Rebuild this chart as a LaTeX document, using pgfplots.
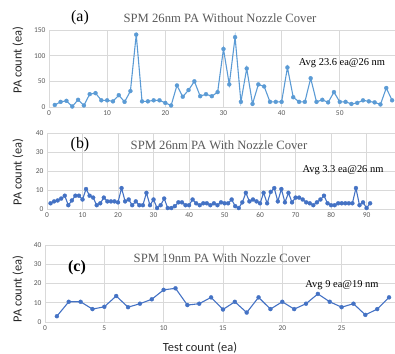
\documentclass[border=0pt]{standalone}
\usepackage{pgfplots}
\pgfplotsset{compat=1.18}
\usepackage{fontspec}
\setmainfont{Liberation Serif}
\newfontfamily\calib{Carlito}
\definecolor{lblue}{HTML}{5B9BD5}
\definecolor{dblue}{HTML}{4472C4}
\definecolor{gridc}{HTML}{D9D9D9}
\definecolor{tickc}{HTML}{595959}
\pgfplotsset{
 myax/.style={scale only axis, axis line style={draw=none}, grid=major,
   grid style={gridc, line width=0.8bp}, major tick length=0pt,
   tick label style={font=\calib\fontsize{7.5}{8}\selectfont, text=tickc},
   /pgf/number format/assume math mode=true, ymin=0, xmin=0,
   anchor=south west, clip=true},
 myline/.style={line width=1.1bp, mark=*, mark size=2bp}
}
\begin{document}
\begin{tikzpicture}[x=1bp,y=1bp]
\useasboundingbox (0,0) rectangle (395,354);
% (a)
\begin{axis}[myax, at={(49bp,247bp)}, width=346bp, height=77bp, xmax=59.5, ymax=150,
  xtick={0,10,...,50}, ytick={0,50,100,150}]
\addplot[lblue, myline, mark options={fill=lblue, line width=0.3bp}] coordinates {
(1,4)(2,10)(3,12)(4,1)(5,14)(6,3)(7,25)(8,27)(9,13)(10,13)
(11,11)(12,23)(13,10)(14,31)(15,141)(16,11)(17,11)(18,13)(19,13)(20,8)
(21,3)(22,42)(23,20)(24,33)(25,50)(26,21)(27,25)(28,21)(29,29)(30,113)
(31,44)(32,136)(33,10)(34,75)(35,6)(36,44)(37,40)(38,10)(39,10)(40,10)
(41,77)(42,19)(43,10)(44,10)(45,56)(46,10)(47,14)(48,9)(49,29)(50,10)
(51,10)(52,6)(53,8)(54,13)(55,11)(56,9)(57,5)(58,37)(59,13)};
\end{axis}
% (b)
\begin{axis}[myax, at={(47bp,145bp)}, width=348bp, height=76bp, xmax=98, ymax=40,
  xtick={0,10,...,90}, ytick={0,10,...,40}]
\addplot[dblue, myline, mark options={fill=dblue, line width=0.3bp}] coordinates {
(1,3)(2,4)(3,4.5)(4,5.5)(5,7)(6,2)(7,4.5)(8,7)(9,7)(10,5)
(11,10.5)(12,7)(13,6)(14,2)(15,3)(16,6)(17,4)(18,4)(19,4)(20,3.5)
(21,11)(22,4)(23,5)(24,2)(25,4)(26,2)(27,2)(28,8.5)(29,2)(30,5)
(31,0.5)(32,2)(33,5.5)(34,0.5)(35,0.5)(36,1.5)(37,3.5)(38,3.5)(39,2)(40,2)
(41,5)(42,3)(43,2)(44,3)(45,3)(46,2)(47,3)(48,2)(49,3.5)(50,3)
(51,3)(52,5)(53,1.5)(54,0.5)(55,3.5)(56,8.5)(57,4)(58,5)(59,4)(60,3)
(61,8.5)(62,3)(63,9)(64,11)(65,4)(66,10.5)(67,3.5)(68,8.5)(69,3.5)(70,6)
(71,6)(72,5)(73,3.5)(74,3)(75,2)(76,3.5)(77,5)(78,7)(79,3)(80,2)
(81,2)(82,3)(83,3)(84,3)(85,3)(86,3)(87,11)(88,2)(89,3.5)(90,0.5)(91,3)};
\end{axis}
% (c)
\begin{axis}[myax, at={(45bp,32bp)}, width=350bp, height=77bp, xmax=29.5, ymax=40,
  xtick={0,5,...,25}, ytick={0,10,...,40}]
\addplot[dblue, myline, mark options={fill=dblue, line width=0.3bp}] coordinates {
(1,3)(2,10.5)(3,10.5)(4,6.7)(5,7.9)(6,13.5)(7,7.7)(8,9.5)(9,11.8)(10,16.7)
(11,17.5)(12,8.8)(13,9.5)(14,12.8)(15,6.5)(16,10.5)(17,4.9)(18,12.8)(19,6.7)(20,10.5)
(21,6.7)(22,9.5)(23,14.6)(24,10.5)(25,7.7)(26,9.5)(27,3.7)(28,6.7)(29,12.8)};
\end{axis}
% texts
\node[fill=white, inner sep=1bp, font=\fontsize{16}{16}\selectfont] at (80,336) {(a)};
\node[text=tickc, font=\fontsize{12.7}{13}\selectfont] at (220,336) {SPM 26nm PA Without Nozzle Cover};
\node[font=\fontsize{10.5}{11}\selectfont] at (342,291) {Avg 23.6 ea@26 nm};
\node[font=\fontsize{16}{16}\selectfont] at (80,209) {(b)};
\node[text=tickc, font=\fontsize{12.7}{13}\selectfont] at (219,209) {SPM 26nm PA With Nozzle Cover};
\node[font=\fontsize{10.5}{11}\selectfont] at (343,184) {Avg 3.3 ea@26 nm};
\node[font=\bfseries\fontsize{16}{16}\selectfont] at (77,86) {(c)};
\node[text=tickc, font=\fontsize{12.7}{13}\selectfont] at (222,96) {SPM 19nm PA With Nozzle Cover};
\node[font=\fontsize{10.5}{11}\selectfont] at (342,69) {Avg 9 ea@19 nm};
\node[font=\calib\fontsize{12.5}{13}\selectfont, text=black!85] at (200,6) {Test count (ea)};
\node[rotate=90, font=\calib\fontsize{12.5}{13}\selectfont, text=black!85] at (18,294) {PA count (ea)};
\node[rotate=90, font=\calib\fontsize{12.5}{13}\selectfont, text=black!85] at (18,182) {PA count (ea)};
\node[rotate=90, font=\calib\fontsize{12.5}{13}\selectfont, text=black!85] at (18,65) {PA count (ea)};
\end{tikzpicture}
\end{document}
